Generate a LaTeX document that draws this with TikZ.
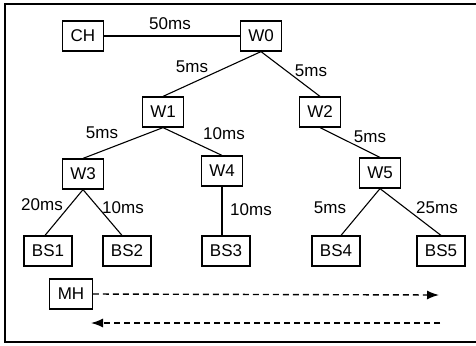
\documentclass[tikz,border=0pt]{standalone}
\usepackage{fontspec}
\setmainfont{Liberation Sans}
\usetikzlibrary{arrows.meta}
\begin{document}
\begin{tikzpicture}[x=1bp,y=-1bp,
  box/.style={draw,line width=1.2bp,inner xsep=8bp,inner ysep=0bp,minimum height=30bp,
    font=\fontsize{17bp}{20bp}\selectfont},
  lbl/.style={inner sep=0pt,font=\fontsize{17bp}{20bp}\selectfont},
  link/.style={line width=1.1bp},
  msg/.style={line width=1.4bp,dash pattern=on 6bp off 4bp,-{Latex[length=12bp,width=9bp]}}]
\useasboundingbox (0,0) rectangle (476,345);
% frame
\draw[line width=1.2bp] (5,4) rectangle (495,342);
% nodes
\node[box] (CH) at (83,36) {CH};
\node[box] (W0) at (261,36) {W0};
\node[box] (W1) at (163,112) {W1};
\node[box] (W2) at (320,112) {W2};
\node[box] (W3) at (83,174) {W3};
\node[box] (W4) at (222,171) {W4};
\node[box] (W5) at (380,173) {W5};
\node[box] (BS1) at (48,251) {BS1};
\node[box] (BS2) at (127,251) {BS2};
\node[box] (BS3) at (226,251) {BS3};
\node[box] (BS4) at (336,251) {BS4};
\node[box] (BS5) at (441,251) {BS5};
\node[box] (MH) at (71,294) {MH};
% links
\draw[link] (CH.east) -- (W0.west);
\draw[link] (W0.south) -- (W1.north);
\draw[link] (W0.south) -- (W2.north);
\draw[link] (W1.south) -- (W3.north);
\draw[link] (W1.south) -- (W4.north);
\draw[link] (W2.south) -- (W5.north);
\draw[link] (W3.south) -- ([xshift=-3bp]BS1.north);
\draw[link] (W3.south) -- ([xshift=-5bp]BS2.north);
\draw[link] (W4.south) -- (BS3.north -| W4.south);
\draw[link] (W5.south) -- ([xshift=5bp]BS4.north);
\draw[link] (W5.south) -- (BS5.north);
% delays
\node[lbl] (d1) at (170,24) {50ms};
\node[lbl] (d2) at (192,67) {5ms};
\node[lbl] (d3) at (311,71) {5ms};
\node[lbl] (d4) at (102,133) {5ms};
\node[lbl] (d5) at (224,134) {10ms};
\node[lbl] (d6) at (370,137) {5ms};
\node[lbl] (d7) at (42,205) {20ms};
\node[lbl] (d8) at (123,208) {10ms};
\node[lbl] (d9) at (251,210) {10ms};
\node[lbl] (d10) at (330,208) {5ms};
\node[lbl] (d11) at (437,208) {25ms};
% mobile host messages
\coordinate (fwdEnd) at (439,295);
\coordinate (backStart) at (440,323);
\coordinate (backEnd) at (91,323);
\draw[msg] (MH.east) -- (fwdEnd);
\draw[msg] (backStart) -- (backEnd);
\end{tikzpicture}
\end{document}
